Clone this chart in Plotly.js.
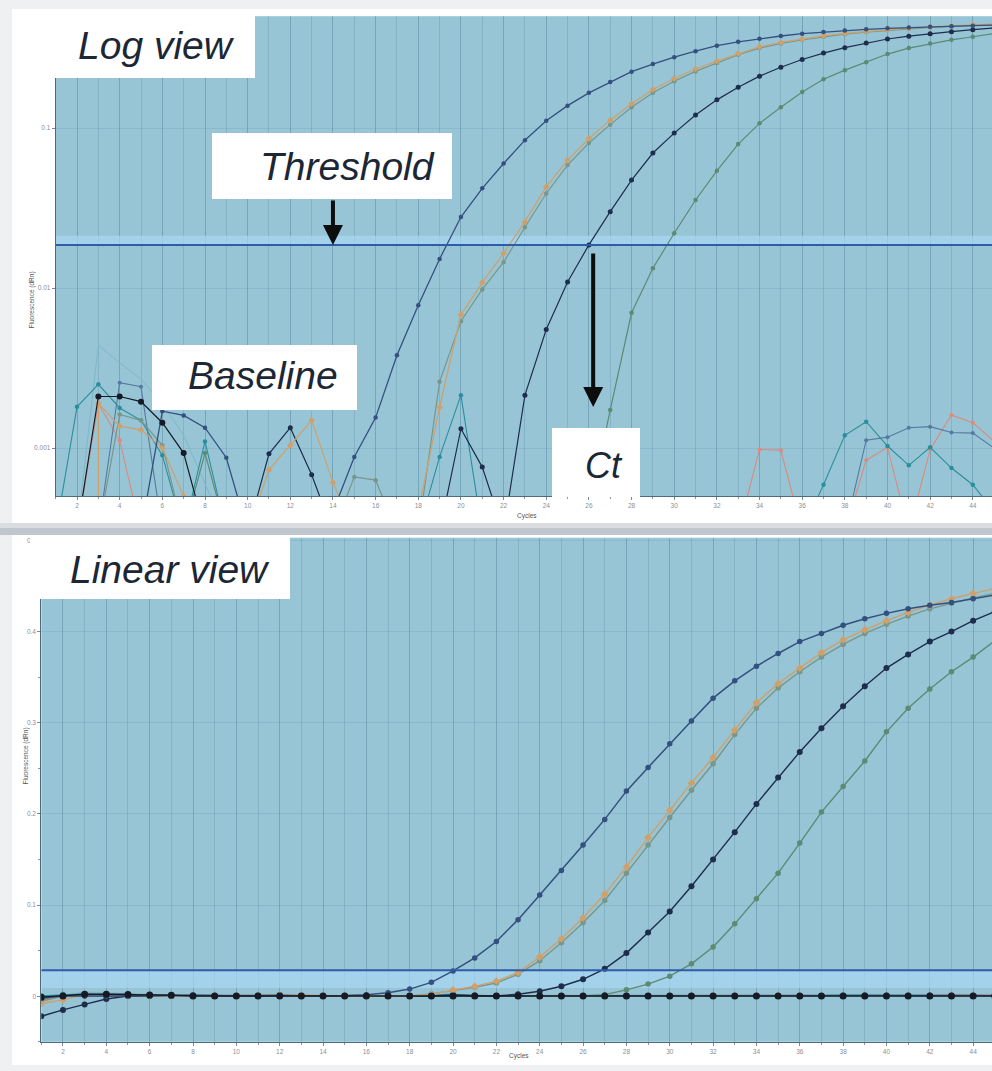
<!DOCTYPE html>
<html>
<head>
<meta charset="utf-8">
<script src="https://cdn.plot.ly/plotly-3.0.1.min.js"></script>
<style>
html,body{margin:0;padding:0;background:#eef0f2;overflow:hidden;}
#chart{width:992px;height:1071px;}
</style>
</head>
<body>
<div id="chart"></div>
<script>
// ---------------- data (fluorescence dRn per cycle) ----------------
const cycles = [1,2,3,4,5,6,7,8,9,10,11,12,13,14,15,16,17,18,19,20,21,22,23,24,25,26,27,28,29,30,31,32,33,34,35,36,37,38,39,40,41,42,43,44,45];
const xTickVals = [2,4,6,8,10,12,14,16,18,20,22,24,26,28,30,32,34,36,38,40,42,44];
const logTickVals = [0.001, 0.01, 0.1];
const logTickText = ["0.001", "0.01", "0.1"];

const wellA1 = [-0.002,0.0003,0.0003,0.0003,0.0003,0.0017,0.0016,0.00134,0.00087,0.0003,0.0003,0.0003,0.0003,0.0004,0.00088,0.00155,0.0038,0.0078,0.0152,0.0278,0.042,0.060,0.084,0.111,0.138,0.166,0.194,0.225,0.251,0.277,0.302,0.327,0.346,0.362,0.376,0.389,0.398,0.407,0.414,0.42,0.425,0.429,0.432,0.436,0.44];
const wellB1 = [-0.008,-0.004,0.0019,0.00137,0.0013,0.0010,0.0005,0.0003,0.0003,0.0003,0.00073,0.00104,0.00149,0.00061,0.0003,0.0003,0.0003,0.0004,0.0018,0.0068,0.0108,0.0165,0.026,0.043,0.063,0.086,0.112,0.142,0.174,0.204,0.234,0.262,0.292,0.322,0.343,0.36,0.377,0.391,0.402,0.412,0.421,0.429,0.436,0.442,0.447];
const wellB2 = [-0.005,0.0003,0.0003,0.00162,0.00149,0.00104,0.0003,0.0003,0.0003,0.0003,0.0003,0.0003,0.0003,0.0003,0.00066,0.00063,0.0003,0.0003,0.0026,0.0062,0.0098,0.0145,0.024,0.039,0.0587,0.0806,0.105,0.135,0.166,0.196,0.226,0.255,0.287,0.316,0.338,0.356,0.372,0.386,0.398,0.408,0.417,0.425,0.431,0.437,0.442];
const wellC1 = [-0.022,-0.015,-0.009,-0.003,0.0003,0.0003,0.0003,0.0003,0.0003,0.0003,0.00092,0.00134,0.00068,0.0003,0.0003,0.0003,0.0003,0.0003,0.0003,0.00132,0.00076,0.0003,0.00214,0.0055,0.0109,0.0186,0.030,0.0473,0.0698,0.093,0.1206,0.150,0.180,0.211,0.240,0.268,0.294,0.318,0.34,0.36,0.375,0.389,0.40,0.412,0.422];
const wellD1 = [-0.004,0.0003,0.0003,0.0003,0.0003,0.0003,0.0003,0.00093,0.0003,0.0003,0.0003,0.0003,0.0003,0.0003,0.0003,0.0003,0.0003,0.0003,0.0003,0.0003,0.0003,0.0003,0.0003,0.0003,0.0003,0.0004,0.00173,0.0070,0.0133,0.022,0.0355,0.054,0.0794,0.107,0.135,0.168,0.202,0.23,0.258,0.29,0.316,0.337,0.356,0.372,0.39];
const wellN1 = [-0.001,0.0003,0.0021,0.0021,0.00195,0.00144,0.00093,0.0003,0.0003,0.0003,0.0003,0.0003,0.0003,0.0003,0.0003,0.0003,0.0003,0.0003,0.0003,0.0003,0.0003,0.0003,0.0003,0.0003,0.0003,0.0003,0.0003,0.0003,0.0003,0.0003,0.0003,0.0003,0.0003,0.0003,0.0003,0.0003,0.0003,0.0003,0.0003,0.0003,0.0003,0.0003,0.0003,0.0003,0.0003];
const wellN2 = [0.0003,0.00181,0.0025,0.00178,0.00149,0.0009,0.0003,0.0011,0.0003,0.0003,0.0003,0.0003,0.0003,0.0003,0.0003,0.0003,0.0003,0.0003,0.00088,0.00214,0.0003,0.0003,0.0003,0.0003,0.0003,0.0003,0.0003,0.0003,0.0003,0.0003,0.0003,0.0003,0.0003,0.0003,0.0003,0.0003,0.00059,0.0012,0.00146,0.00103,0.00078,0.00101,0.00075,0.00059,0.0004];
const wellN3 = [-0.006,0.0003,0.0019,0.00112,0.0003,0.0003,0.0003,0.0003,0.0003,0.0003,0.0003,0.0003,0.0003,0.0003,0.0003,0.0003,0.0003,0.0003,0.0003,0.0003,0.0003,0.0003,0.0003,0.0003,0.0003,0.0003,0.0003,0.0003,0.0003,0.0003,0.0003,0.0003,0.0003,0.00098,0.00097,0.0003,0.0003,0.0003,0.00084,0.00101,0.0003,0.00098,0.00161,0.00144,0.0011];
const wellN4 = [0.0003,0.0003,0.0003,0.00256,0.00242,0.0003,0.0003,0.0003,0.0003,0.0003,0.0003,0.0003,0.0003,0.0003,0.0003,0.0003,0.0003,0.0003,0.0003,0.0003,0.0003,0.0003,0.0003,0.0003,0.0003,0.0003,0.0003,0.0003,0.0003,0.0003,0.0003,0.0003,0.0003,0.0003,0.0003,0.0003,0.0003,0.0003,0.00112,0.00117,0.00134,0.00136,0.00125,0.00124,0.001];
const wellN5 = [0.0003,0.0003,0.0044,0.0034,0.0027,0.0019,0.0012,0.0006,0.0003,0.0003,0.0003,0.0003,0.0003,0.0003,0.0003,0.0003,0.0003,0.0003,0.0003,0.0003,0.0003,0.0003,0.0003,0.0003,0.0003,0.0003,0.0003,0.0003,0.0003,0.0003,0.0003,0.0003,0.0003,0.0003,0.0003,0.0003,0.0003,0.0003,0.0003,0.0003,0.0003,0.0003,0.0003,0.0003,0.0003];

const thresholdLog = 0.0186;
const thresholdLin = 0.0286;
const thresholdCycleX = [1, 45];

// ---------------- styling ----------------
const W = 992, H = 1071;
const px = v => v / W;
const py = v => 1 - v / H;

const wells = [
  {y: wellN5, color: "#7fb7c6", size: 0, width: 1.0, symbol: "circle"},
  {y: wellN3, color: "#dd8a7c", size: 4, width: 1.1, symbol: "circle"},
  {y: wellN4, color: "#56799f", size: 4, width: 1.1, symbol: "circle"},
  {y: wellN2, color: "#2a8f9c", size: 4.5, width: 1.1, symbol: "circle"},
  {y: wellD1, color: "#5c8a72", size: 4.5, width: 1.2, symbol: "circle"},
  {y: wellC1, color: "#1f2d4c", size: 5, width: 1.2, symbol: "circle"},
  {y: wellB2, color: "#78978a", size: 4.5, width: 1.2, symbol: "circle"},
  {y: wellB1, color: "#cfa06a", size: 5, width: 1.2, symbol: "diamond"},
  {y: wellA1, color: "#33507f", size: 4.5, width: 1.3, symbol: "circle"},
  {y: wellN1, color: "#151a24", size: 6, width: 1.2, symbol: "circle"}
];

const traces = [];
// selection bands next to the threshold
traces.push({x:[1,45,45,1], y:[thresholdLog,thresholdLog,thresholdLog*1.14,thresholdLog*1.14], xaxis:"x", yaxis:"y",
  mode:"lines", fill:"toself", fillcolor:"rgba(170,215,243,0.7)", line:{width:0}, hoverinfo:"skip"});
traces.push({x:[1,45,45,1], y:[thresholdLin,thresholdLin,0.009,0.009], xaxis:"x2", yaxis:"y2",
  mode:"lines", fill:"toself", fillcolor:"rgba(170,215,243,0.7)", line:{width:0}, hoverinfo:"skip"});

wells.forEach(w => {
  const mode = w.size > 0 ? "lines+markers" : "lines";
  traces.push({x: cycles, y: w.y, xaxis:"x", yaxis:"y", mode: mode,
    line:{color:w.color, width:w.width}, marker:{color:w.color, size:w.size, symbol:w.symbol}, cliponaxis:true});
  traces.push({x: cycles, y: w.y, xaxis:"x2", yaxis:"y2", mode: mode,
    line:{color:w.color, width:w.width+0.2}, marker:{color:w.color, size:w.size>0 ? w.size+1 : 0, symbol:w.symbol}, cliponaxis:true});
});

// threshold lines
traces.push({x: thresholdCycleX, y:[thresholdLog, thresholdLog], xaxis:"x", yaxis:"y", mode:"lines",
  line:{color:"#2f5ca8", width:2}});
traces.push({x: thresholdCycleX, y:[thresholdLin, thresholdLin], xaxis:"x2", yaxis:"y2", mode:"lines",
  line:{color:"#2f5ca8", width:2}});

const gridC = "rgba(70,120,145,0.24)";
const tickFont = {family:"Liberation Sans, Arial, sans-serif", size:6.5, color:"#8a8f96"};
const xCommon = {
  range:[1, 44.9], tickvals: xTickVals, ticks:"outside", ticklen:3, tickcolor:"#7a8a94",
  showgrid:true, gridcolor:gridC, gridwidth:1,
  minor:{dtick:1, tick0:1, showgrid:true, gridcolor:gridC, ticks:"outside", ticklen:2, tickcolor:"#8a98a0"},
  showline:true, linecolor:"#4e6b7c", linewidth:1, zeroline:false, tickfont: tickFont, fixedrange:true
};

const lbl = "Liberation Sans, Arial, sans-serif";
const bigFont = {family: lbl, size: 39, color: "#1c2735"};
const pageGray = "#eef0f2";

const layout = {
  width: W, height: H,
  margin:{l:0, r:0, t:0, b:0},
  paper_bgcolor:"#ffffff",
  plot_bgcolor:"#97c5d6",
  showlegend:false,
  hovermode:false,
  xaxis: Object.assign({}, xCommon, {domain:[px(55.7), 1], anchor:"y"}),
  yaxis: {domain:[py(496.2), py(16.2)], anchor:"x", type:"log", range:[-3.301, -0.301],
    tickvals: logTickVals, ticktext: logTickText, ticks:"outside", ticklen:3, tickcolor:"#7a8a94",
    showgrid:true, gridcolor:"rgba(70,120,145,0.15)", showline:true, linecolor:"#4e6b7c", linewidth:1,
    zeroline:false, tickfont: tickFont, fixedrange:true},
  xaxis2: Object.assign({}, xCommon, {domain:[px(41.3), 1], anchor:"y2", range:[1, 44.87]}),
  yaxis2: {domain:[py(1041.8), py(537.7)], anchor:"x2", range:[-0.05, 0.503], dtick:0.1, tick0:0,
    ticks:"outside", ticklen:3, tickcolor:"#7a8a94",
    minor:{dtick:0.05, ticks:"outside", ticklen:2, tickcolor:"#8a98a0", showgrid:false},
    showgrid:true, gridcolor:"rgba(70,120,145,0.15)", showline:true, linecolor:"#4e6b7c", linewidth:1,
    zeroline:false, tickfont: tickFont, fixedrange:true},
  shapes: [
    // page surround (gray) and gap between the two cards
    {type:"rect", xref:"paper", yref:"paper", x0:0, x1:px(12), y0:0, y1:1, fillcolor:pageGray, line:{width:0}, layer:"below"},
    {type:"rect", xref:"paper", yref:"paper", x0:0, x1:1, y0:py(9), y1:1, fillcolor:pageGray, line:{width:0}, layer:"below"},
    {type:"rect", xref:"paper", yref:"paper", x0:0, x1:1, y0:0, y1:py(1065), fillcolor:pageGray, line:{width:0}, layer:"below"},
    {type:"rect", xref:"paper", yref:"paper", x0:0, x1:1, y0:py(528), y1:py(523), fillcolor:"#d9dde2", line:{width:0}, layer:"below"},
    {type:"rect", xref:"paper", yref:"paper", x0:0, x1:1, y0:py(535), y1:py(528), fillcolor:"#bfc6ce", line:{width:0}, layer:"below"},
    // label boxes
    {type:"rect", xref:"paper", yref:"paper", x0:px(13), x1:px(255), y0:py(78), y1:py(10), fillcolor:"#ffffff", line:{width:0}, layer:"above"},
    {type:"rect", xref:"paper", yref:"paper", x0:px(212), x1:px(452), y0:py(199), y1:py(133), fillcolor:"#ffffff", line:{width:0}, layer:"above"},
    {type:"rect", xref:"paper", yref:"paper", x0:px(152), x1:px(357), y0:py(410), y1:py(345), fillcolor:"#ffffff", line:{width:0}, layer:"above"},
    {type:"rect", xref:"paper", yref:"paper", x0:px(552), x1:px(640), y0:py(497), y1:py(428), fillcolor:"#ffffff", line:{width:0}, layer:"above"},
    {type:"rect", xref:"paper", yref:"paper", x0:px(30), x1:px(290), y0:py(599), y1:py(535), fillcolor:"#ffffff", line:{width:0}, layer:"above"}
  ],
  annotations: [
    {xref:"paper", yref:"paper", x:px(76), y:py(46), xanchor:"left", yanchor:"middle", text:"<i>Log view</i>", showarrow:false, font:bigFont},
    {xref:"paper", yref:"paper", x:px(258), y:py(166), xanchor:"left", yanchor:"middle", text:"<i>Threshold</i>", showarrow:false, font:bigFont},
    {xref:"paper", yref:"paper", x:px(186), y:py(375), xanchor:"left", yanchor:"middle", text:"<i>Baseline</i>", showarrow:false, font:bigFont},
    {xref:"paper", yref:"paper", x:px(583), y:py(465), xanchor:"left", yanchor:"middle", text:"<i>Ct</i>", showarrow:false, font:{family:lbl, size:36, color:"#1c2735"}},
    {xref:"paper", yref:"paper", x:px(68), y:py(569), xanchor:"left", yanchor:"middle", text:"<i>Linear view</i>", showarrow:false, font:bigFont},
    // arrows
    {xref:"x", yref:"y", x:14, y:Math.log10(thresholdLog), ax:0, ay:-46, text:"", showarrow:true,
      arrowhead:2, arrowsize:1, arrowwidth:4, arrowcolor:"#0d0d0d", standoff:0},
    {xref:"x", yref:"y", x:26.2, y:-2.744, ax:0, ay:-155, text:"", showarrow:true,
      arrowhead:2, arrowsize:1, arrowwidth:4, arrowcolor:"#0d0d0d", standoff:0},
    // axis titles
    {xref:"paper", yref:"paper", x:px(25), y:py(270), text:"Fluorescence (dRn)", textangle:-90, showarrow:false,
      font:{family:lbl, size:6.5, color:"#555"}},
    {xref:"paper", yref:"paper", x:px(19), y:py(787), text:"Fluorescence (dRn)", textangle:-90, showarrow:false,
      font:{family:lbl, size:6.5, color:"#555"}},
    {xref:"paper", yref:"paper", x:px(527), y:py(516), text:"Cycles", showarrow:false, font:{family:lbl, size:6.5, color:"#555"}},
    {xref:"paper", yref:"paper", x:px(519), y:py(1062), text:"Cycles", showarrow:false, font:{family:lbl, size:6.5, color:"#555"}}
  ]
};

Plotly.newPlot("chart", traces, layout, {staticPlot:true, displayModeBar:false});
</script>
</body>
</html>
